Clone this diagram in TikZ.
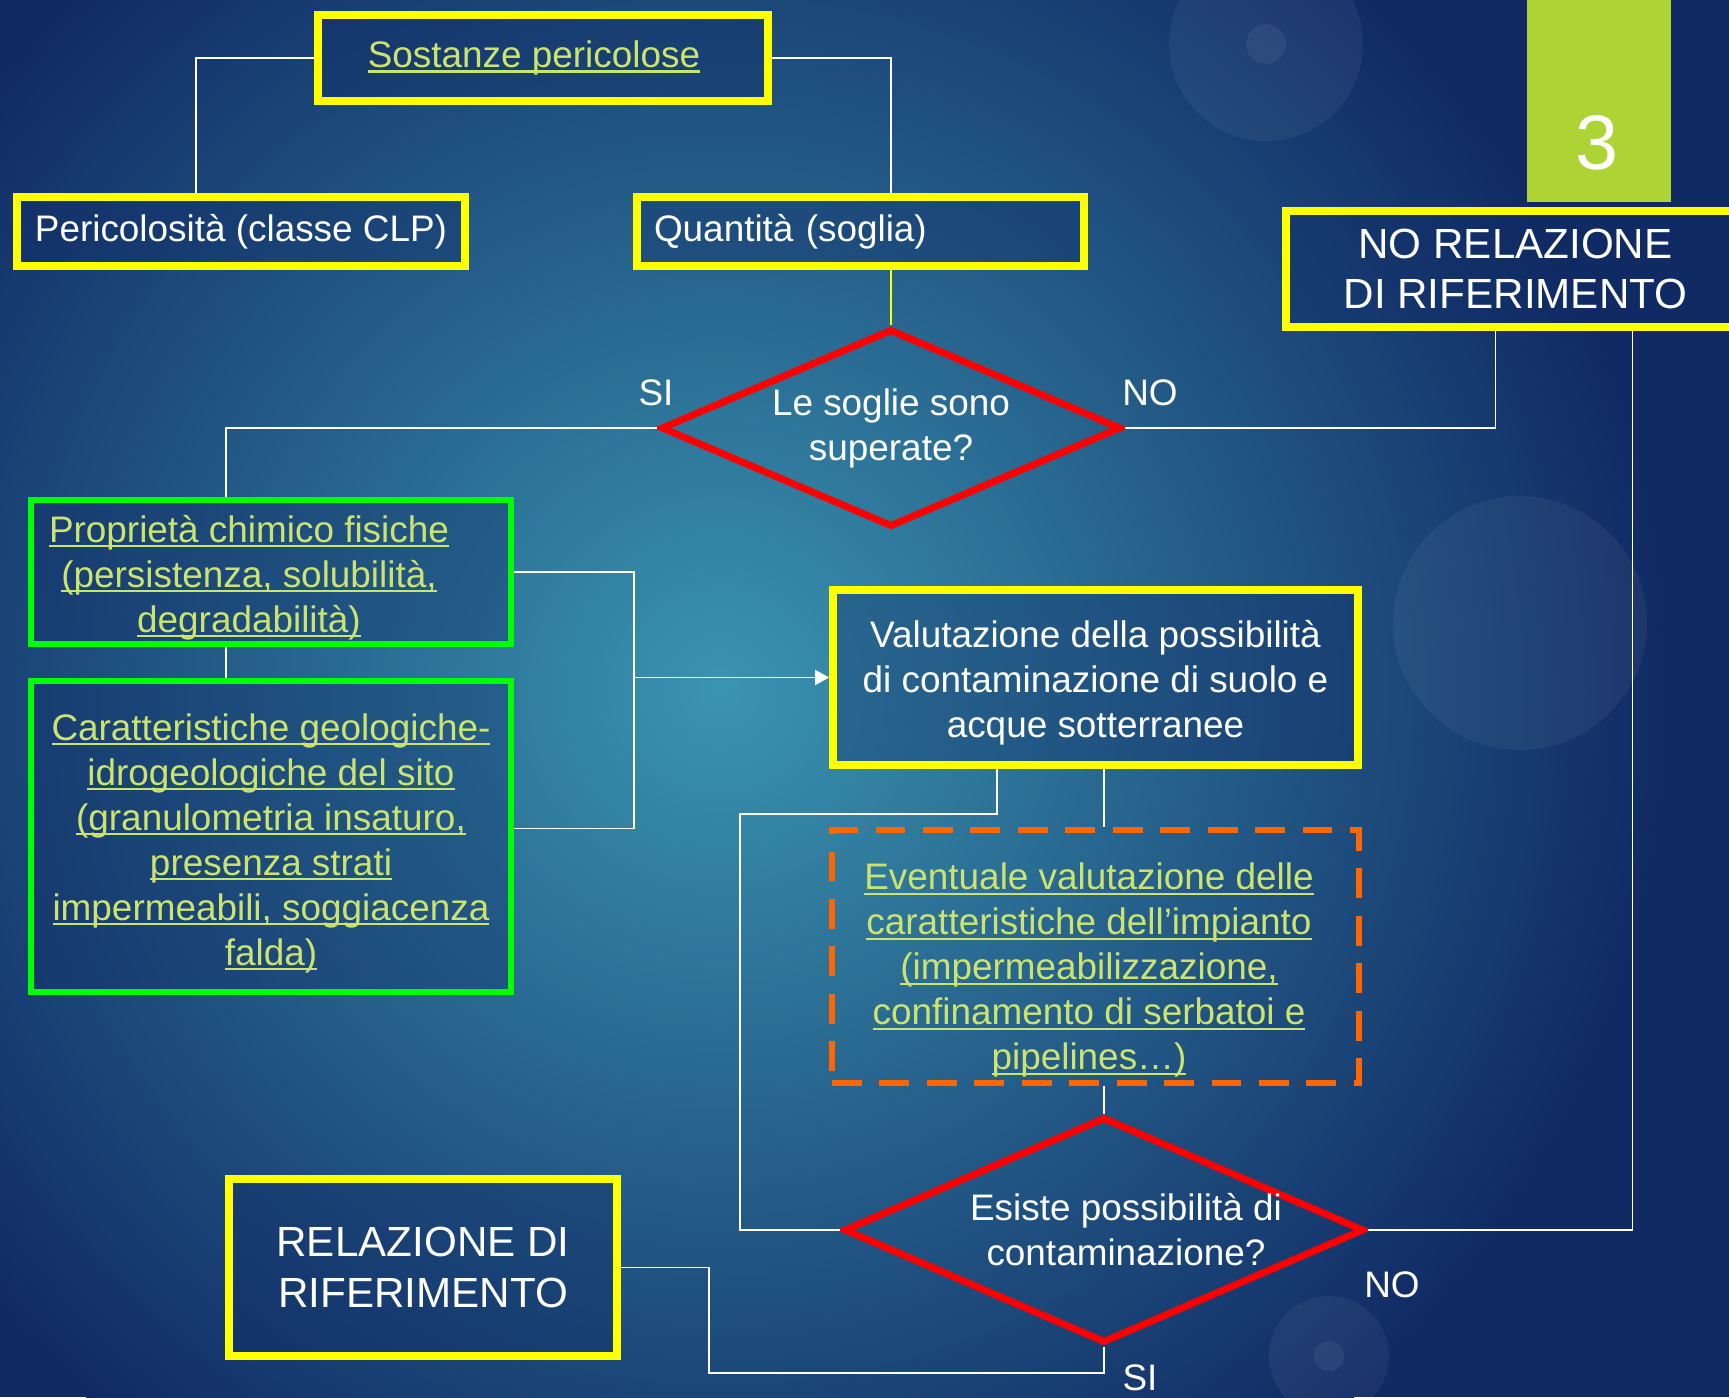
\documentclass[tikz,border=0pt]{standalone}
\usepackage{fontspec}
\setmainfont{Liberation Sans}
\usetikzlibrary{shapes.geometric,arrows.meta}

\definecolor{navy}{RGB}{16,42,100}
\definecolor{bgteal}{RGB}{58,148,176}
\definecolor{boxyel}{RGB}{255,255,0}
\definecolor{boxgreen}{RGB}{0,255,0}
\definecolor{qred}{RGB}{255,0,0}
\definecolor{dashorange}{RGB}{255,102,0}
\definecolor{linktext}{RGB}{204,228,110}
\definecolor{tabgreen}{RGB}{173,212,52}

\newsavebox\lnkbox
\newcommand\lnk[1]{\sbox\lnkbox{#1}\rlap{\rule[-0.14em]{\wd\lnkbox}{0.06em}}\usebox\lnkbox}

\begin{document}
\begin{tikzpicture}[
    every node/.style={text=white, font=\fontsize{10.5}{12.8}\selectfont},
    box/.style={draw, rectangle, line width=2.2pt, fill=navy, fill opacity=0.35, text opacity=1, align=center, inner sep=0pt},
    ybox/.style={box, draw=boxyel},
    gbox/.style={box, draw=boxgreen, line width=1.9pt, text=linktext},
    obox/.style={rectangle, draw=dashorange, line width=1.8pt, dash pattern=on 8.5pt off 5pt, align=center, inner sep=0pt, text=linktext},
    query/.style={diamond, draw=qred, line width=2pt, inner sep=0pt, shape aspect=2.3, align=center},
    big/.style={font=\fontsize{12}{14.3}\selectfont},
    link/.style={draw=white, line width=0.5pt},
    >={Triangle[length=1.4mm,width=1.5mm]}
  ]

    \useasboundingbox (0,0) rectangle (17.29,-13.97);
    \fill[navy] (0,0) rectangle (17.29,-13.97);
    \shade[inner color=bgteal, outer color=navy] (7.2,-6.9) circle (9.5);
    \fill[white, opacity=0.05] (12.66,-0.44) circle (0.97);
    \fill[white, opacity=0.06] (12.66,-0.44) circle (0.2);
    \fill[white, opacity=0.05] (15.2,-6.23) circle (1.27);
    \fill[white, opacity=0.05] (13.29,-13.56) circle (0.6);
    \fill[white, opacity=0.06] (13.29,-13.56) circle (0.15);

    \fill[tabgreen] (15.27,0) rectangle (16.71,-2.02);
    \node[name=num, font=\fontsize{22}{26}\selectfont] at (15.97,-1.43) {3};

    \node[name=sost, ybox, minimum width=4.5cm, minimum height=0.86cm, text=linktext] at (5.43,-0.58) {\mbox{\lnk{Sostanze pericolose}\kern0.18cm}};
    \node[name=peric, ybox, minimum width=4.48cm, minimum height=0.69cm] at (2.41,-2.315) {Pericolosità (classe CLP)};
    \node[name=quant, ybox, minimum width=4.47cm, minimum height=0.69cm, text width=4.13cm, inner xsep=0.17cm, align=left] at (8.605,-2.315) {Quantità (soglia)};
    \node[name=norel, ybox, big, minimum width=4.59cm, minimum height=1.16cm] at (15.155,-2.69) {NO RELAZIONE\\DI RIFERIMENTO};

    \node[name=dia1, query, minimum width=4.6cm, minimum height=1.98cm] at (8.91,-4.28) {Le soglie sono\\superate?};
    \node[name=si1] at (6.56,-3.93) {SI};
    \node[name=no1] at (11.50,-3.93) {NO};

    \node[name=prop, gbox, minimum width=4.8cm, minimum height=1.44cm] at (2.71,-5.72) {\rule{0pt}{10.8pt}\mbox{\lnk{Proprietà chimico fisiche}\kern0.44cm}\\\mbox{\lnk{(persistenza, solubilità,}\kern0.44cm}\\\mbox{\lnk{degradabilità)}\kern0.44cm}};
    \node[name=caratt, gbox, minimum width=4.8cm, minimum height=3.11cm] at (2.71,-8.365) {\rule{0pt}{11.4pt}\lnk{Caratteristiche geologiche-}\\\lnk{idrogeologiche del sito}\\\lnk{(granulometria insaturo,}\\\lnk{presenza strati}\\\lnk{impermeabili, soggiacenza}\\\lnk{falda)}};

    \node[name=valut, ybox, minimum width=5.25cm, minimum height=1.75cm] at (10.955,-6.775) {\rule{0pt}{10.8pt}Valutazione della possibilità\\di contaminazione di suolo e\\acque sotterranee};
    \node[name=event, obox, minimum width=5.27cm, minimum height=2.53cm] at (10.955,-9.565) {\rule{0pt}{15.5pt}\mbox{\lnk{Eventuale valutazione delle}\kern0.13cm}\\\mbox{\lnk{caratteristiche dell’impianto}\kern0.13cm}\\\mbox{\lnk{(impermeabilizzazione,}\kern0.13cm}\\\mbox{\lnk{confinamento di serbatoi e}\kern0.13cm}\\\mbox{\lnk{pipelines…)}\kern0.13cm}};

    \node[name=dia2, query, inner xsep=-0.25cm, minimum width=5.2cm, minimum height=2.26cm] at (11.04,-12.30) {\hspace*{0.44cm}Esiste possibilità di\\\hspace*{0.44cm}contaminazione?};
    \node[name=no2] at (13.92,-12.85) {NO};
    \node[name=si2] at (11.40,-13.78) {SI};

    \node[name=relaz, ybox, big, minimum width=3.88cm, minimum height=1.77cm] at (4.23,-12.675) {RELAZIONE DI\\RIFERIMENTO};

    \coordinate (join) at (6.34,-6.775);
    \coordinate (loop) at (7.40,-8.14);
    \coordinate (bend) at (7.09,-13.73);

    \draw[link] (sost.west) -| ([xshift=-0.45cm]peric.north);
    \draw[link] (sost.east) -| (quant.north -| dia1.north);
    \draw[boxyel, line width=0.5pt] (quant.south -| dia1.north) -- (dia1.north);
    \draw[link] (dia1.west) -| ([xshift=-0.45cm]prop.north);
    \draw[link] (dia1.east) -| ([xshift=-0.2cm]norel.south);
    \draw[link] ([xshift=-0.45cm]prop.south) -- ([xshift=-0.45cm]caratt.north);
    \draw[link] (prop.east) -| (join) |- ([yshift=0.08cm]caratt.east);
    \draw[link, ->] (join) -- (valut.west);
    \draw[link] ([xshift=-0.985cm]valut.south) |- (loop) |- (dia2.west);
    \draw[link] (valut.south -| dia2.north) -- (event.north -| dia2.north);
    \draw[link] (event.south -| dia2.north) -- (dia2.north);
    \draw[link] (dia2.east) -| ([xshift=1.17cm]norel.south);
    \draw[link] (dia2.south) |- (bend) |- (relaz.east);

\end{tikzpicture}
\end{document}
